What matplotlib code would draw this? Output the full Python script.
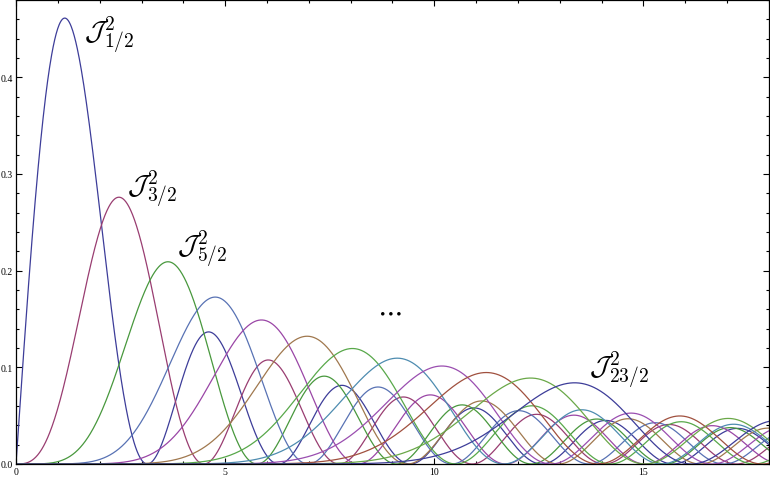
"""Squared Bessel functions J_{n+1/2}(x)^2, Mathematica-style plot.
"""

import math
import numpy as np
import matplotlib
matplotlib.use('Agg')
import matplotlib.pyplot as plt
from matplotlib.ticker import MultipleLocator

# Orders of the curves (1/2 ... 23/2)
orders = [0.5, 1.5, 2.5, 3.5, 4.5, 5.5, 6.5, 7.5, 8.5, 9.5, 10.5, 11.5]
x_range = [0.0, 18.0]
y_range = [0.0, 0.48]

# Mathematica default plot colours, one per curve
colors = ['#3d3d99', '#993d71', '#48983d', '#5872b4', '#9a46a6', '#a0784e',
          '#58a84a', '#4e8cb0', '#9a4eb0', '#a0503e', '#6aa848', '#3d3d99']

# Label annotations: text, x, y (data coords)
labels = [(r'$\mathcal{J}^2_{1/2}$', 1.62, 0.445),
          (r'$\mathcal{J}^2_{3/2}$', 2.65, 0.286),
          (r'$\mathcal{J}^2_{5/2}$', 3.85, 0.224),
          (r'$\cdots$', 8.62, 0.159),
          (r'$\mathcal{J}^2_{23/2}$', 13.7, 0.099)]


def bessel_j(nu, x, terms=70):
    """Bessel function of the first kind by its power series."""
    half = x / 2.0
    total = np.zeros_like(x)
    for k in range(terms):
        total += (-1) ** k * half ** (2 * k + nu) / (math.factorial(k) * math.gamma(k + nu + 1))
    return total


plt.rcParams['mathtext.fontset'] = 'cm'

fig = plt.figure(figsize=(7.7, 4.81), dpi=100)
ax = fig.add_axes([16 / 770, 16 / 481, 753 / 770, 464 / 481])

x = np.linspace(x_range[0], x_range[1], 1500)
for nu, c in zip(orders, colors):
    ax.plot(x, bessel_j(nu, x) ** 2, color=c, lw=0.9, solid_capstyle='butt')

ax.xaxis.set_major_locator(MultipleLocator(5))
ax.xaxis.set_minor_locator(MultipleLocator(1))
ax.yaxis.set_major_locator(MultipleLocator(0.1))
ax.yaxis.set_minor_locator(MultipleLocator(0.02))
ax.tick_params(which='both', direction='in', top=True, right=True, width=0.8,
               labelsize=7, pad=2)
ax.tick_params(which='major', length=4.5)
ax.tick_params(which='minor', length=2.5)
ax.set_xlim(*x_range)
ax.set_ylim(*y_range)
ax.set_xticks([0, 5, 10, 15])
ax.set_yticks([0.0, 0.1, 0.2, 0.3, 0.4])
ax.set_xticklabels(['0', '5', '10', '15'], family='Liberation Serif')
ax.set_yticklabels(['0.0', '0.1', '0.2', '0.3', '0.4'], family='Liberation Serif')
ax.set_xlim(*x_range)
ax.set_ylim(*y_range)
for s in ax.spines.values():
    s.set_linewidth(0.9)

for txt, tx, ty in labels:
    ax.text(tx, ty, txt, fontsize=20, va='center', ha='left')

fig.savefig('out.png', dpi=100)
